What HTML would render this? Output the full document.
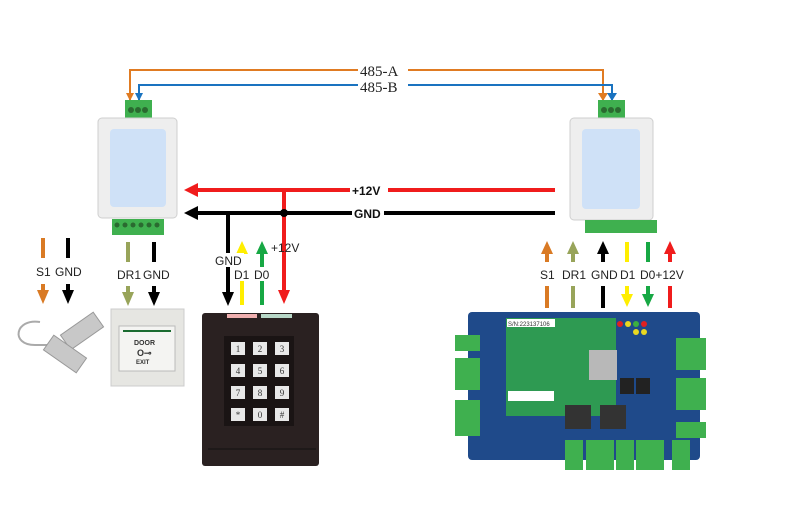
<!DOCTYPE html>
<html><head><meta charset="utf-8"><style>
html,body{margin:0;padding:0;background:#fff;}
svg{display:block;}
text{font-family:"Liberation Sans",sans-serif;}
text.sf{font-family:"Liberation Serif",serif;}
</style></head><body>
<svg width="804" height="532" viewBox="0 0 804 532" xmlns="http://www.w3.org/2000/svg">
<!-- 485 lines -->
<polyline points="130,100 130,70 603,70 603,100" fill="none" stroke="#e07b22" stroke-width="2"/>
<polyline points="139,100 139,85 612,85 612,100" fill="none" stroke="#1a73c0" stroke-width="2"/>
<path d="M126,93 L134,93 L130,101z M598,93 L608,93 L603,101z" fill="#e07b22"/>
<path d="M135,93 L143,93 L139,101z M607,93 L617,93 L612,101z" fill="#1a73c0"/>
<rect x="358" y="62" width="50" height="30" fill="#fff"/>
<text class="sf" x="360" y="76" font-size="15" fill="#222">485-A</text>
<text class="sf" x="360" y="92" font-size="15" fill="#222">485-B</text>

<!-- modules -->
<g>
<rect x="125" y="100" width="27" height="18" fill="#3fb04f"/>
<circle cx="131" cy="110" r="3" fill="#2a6a30"/><circle cx="138" cy="110" r="3" fill="#2a6a30"/><circle cx="145" cy="110" r="3" fill="#2a6a30"/>
<rect x="98" y="118" width="79" height="100" rx="4" fill="#eeeeee" stroke="#cfcfcf"/>
<rect x="110" y="129" width="56" height="78" rx="4" fill="#cfe1f7"/>
<rect x="112" y="219" width="52" height="16" fill="#3fb04f"/>
<g fill="#2a6a30"><circle cx="117" cy="225" r="2.5"/><circle cx="125" cy="225" r="2.5"/><circle cx="133" cy="225" r="2.5"/><circle cx="141" cy="225" r="2.5"/><circle cx="149" cy="225" r="2.5"/><circle cx="157" cy="225" r="2.5"/></g>
</g>
<g>
<rect x="598" y="100" width="27" height="18" fill="#3fb04f"/>
<circle cx="604" cy="110" r="3" fill="#2a6a30"/><circle cx="611" cy="110" r="3" fill="#2a6a30"/><circle cx="618" cy="110" r="3" fill="#2a6a30"/>
<rect x="570" y="118" width="83" height="102" rx="4" fill="#eeeeee" stroke="#cfcfcf"/>
<rect x="582" y="129" width="58" height="80" rx="4" fill="#cfe1f7"/>
<rect x="585" y="220" width="72" height="13" fill="#3fb04f"/>
</g>

<!-- power lines -->
<line x1="195" y1="190" x2="555" y2="190" stroke="#f01c1c" stroke-width="4"/>
<path d="M184,190 L198,183 L198,197z" fill="#f01c1c"/>
<line x1="195" y1="213" x2="555" y2="213" stroke="#000" stroke-width="4"/>
<path d="M184,213 L198,206 L198,220z" fill="#000"/>
<rect x="350" y="182" width="38" height="15" fill="#fff"/>
<text x="352" y="195" font-size="12" font-weight="bold" fill="#111">+12V</text>
<rect x="352" y="206" width="32" height="14" fill="#fff"/>
<text x="354" y="218" font-size="12" font-weight="bold" fill="#111">GND</text>
<line x1="284" y1="190" x2="284" y2="292" stroke="#f01c1c" stroke-width="4"/>
<path d="M278,290 L290,290 L284,304z" fill="#f01c1c"/>
<circle cx="284" cy="213" r="4" fill="#000"/>
<line x1="228" y1="213" x2="228" y2="294" stroke="#000" stroke-width="4"/>
<path d="M222,292 L234,292 L228,306z" fill="#000"/>
<line x1="242" y1="252" x2="242" y2="305" stroke="#ffee00" stroke-width="4"/>
<path d="M236,254 L248,254 L242,241z" fill="#ffee00"/>
<line x1="262" y1="252" x2="262" y2="305" stroke="#17a844" stroke-width="4"/>
<path d="M256,254 L268,254 L262,241z" fill="#17a844"/>
<rect x="214" y="253" width="30" height="14" fill="#fff"/>
<rect x="234" y="267" width="38" height="14" fill="#fff"/>
<g font-size="12" fill="#222">
<text x="215" y="265">GND</text>
<text x="234" y="279">D1</text><text x="254" y="279">D0</text>
<text x="271" y="252">+12V</text>
</g>

<!-- left arrows -->
<g stroke-width="4">
<line x1="43" y1="238" x2="43" y2="258" stroke="#d97a24"/><line x1="43" y1="284" x2="43" y2="292" stroke="#d97a24"/>
<line x1="68" y1="238" x2="68" y2="258" stroke="#000"/><line x1="68" y1="284" x2="68" y2="292" stroke="#000"/>
<line x1="128" y1="242" x2="128" y2="262" stroke="#98a45a"/><line x1="128" y1="286" x2="128" y2="294" stroke="#98a45a"/>
<line x1="154" y1="242" x2="154" y2="262" stroke="#000"/><line x1="154" y1="286" x2="154" y2="294" stroke="#000"/>
</g>
<path d="M37,290 L49,290 L43,304z" fill="#d97a24"/>
<path d="M62,290 L74,290 L68,304z" fill="#000"/>
<path d="M122,292 L134,292 L128,306z" fill="#98a45a"/>
<path d="M148,292 L160,292 L154,306z" fill="#000"/>
<g font-size="12" fill="#222">
<text x="36" y="276">S1</text><text x="55" y="276">GND</text>
<text x="117" y="279">DR1</text><text x="143" y="279">GND</text>
</g>

<!-- right arrows -->
<g stroke-width="4">
<line x1="547" y1="252" x2="547" y2="262" stroke="#d97a24"/><line x1="547" y1="286" x2="547" y2="308" stroke="#d97a24"/>
<line x1="573" y1="252" x2="573" y2="262" stroke="#98a45a"/><line x1="573" y1="286" x2="573" y2="308" stroke="#98a45a"/>
<line x1="603" y1="252" x2="603" y2="262" stroke="#000"/><line x1="603" y1="286" x2="603" y2="308" stroke="#000"/>
<line x1="627" y1="242" x2="627" y2="262" stroke="#ffee00"/><line x1="627" y1="286" x2="627" y2="296" stroke="#ffee00"/>
<line x1="648" y1="242" x2="648" y2="262" stroke="#17a844"/><line x1="648" y1="286" x2="648" y2="296" stroke="#17a844"/>
<line x1="670" y1="252" x2="670" y2="262" stroke="#f01c1c"/><line x1="670" y1="286" x2="670" y2="308" stroke="#f01c1c"/>
</g>
<path d="M541,254 L553,254 L547,241z" fill="#d97a24"/>
<path d="M567,254 L579,254 L573,241z" fill="#98a45a"/>
<path d="M597,254 L609,254 L603,241z" fill="#000"/>
<path d="M621,294 L633,294 L627,307z" fill="#ffee00"/>
<path d="M642,294 L654,294 L648,307z" fill="#17a844"/>
<path d="M664,254 L676,254 L670,241z" fill="#f01c1c"/>
<g font-size="12" fill="#222">
<text x="540" y="279">S1</text><text x="562" y="279">DR1</text><text x="591" y="279">GND</text>
<text x="620" y="279">D1</text><text x="640" y="279">D0+12V</text>
</g>

<!-- door sensor -->
<path d="M40,322 C15,318 10,345 35,345 L75,345" fill="none" stroke="#aaa" stroke-width="2"/>
<rect x="62" y="322" width="40" height="18" fill="#c8c8c8" stroke="#999" transform="rotate(-35 82 331)"/>
<rect x="45" y="345" width="40" height="18" fill="#c8c8c8" stroke="#999" transform="rotate(35 65 354)"/>
<!-- exit button -->
<rect x="111" y="309" width="73" height="77" fill="#e6e6e2" stroke="#ccc"/>
<rect x="119" y="326" width="56" height="45" fill="#f4f4f2" stroke="#bbb"/>
<line x1="123" y1="331" x2="171" y2="331" stroke="#1a6b30" stroke-width="2"/>
<text x="134" y="345" font-size="7" font-weight="bold" fill="#333">DOOR</text>
<text x="137" y="356" font-size="9" font-weight="bold" fill="#333">O⊸</text>
<text x="136" y="364" font-size="6" font-weight="bold" fill="#333">EXIT</text>
<!-- keypad -->
<rect x="202" y="313" width="117" height="153" rx="3" fill="#2a2121"/>
<rect x="227" y="314" width="30" height="4" fill="#f0b0b0"/>
<rect x="261" y="314" width="31" height="4" fill="#b8d8c8"/>
<rect x="224" y="336" width="70" height="90" fill="#1a1414"/>
<g fill="#e8e8e8">
<rect x="231" y="342" width="14" height="13"/><rect x="253" y="342" width="14" height="13"/><rect x="275" y="342" width="14" height="13"/>
<rect x="231" y="364" width="14" height="13"/><rect x="253" y="364" width="14" height="13"/><rect x="275" y="364" width="14" height="13"/>
<rect x="231" y="386" width="14" height="13"/><rect x="253" y="386" width="14" height="13"/><rect x="275" y="386" width="14" height="13"/>
<rect x="231" y="408" width="14" height="13"/><rect x="253" y="408" width="14" height="13"/><rect x="275" y="408" width="14" height="13"/>
</g>
<g font-size="9" fill="#333" text-anchor="middle">
<text class="sf" x="238" y="352">1</text><text class="sf" x="260" y="352">2</text><text class="sf" x="282" y="352">3</text>
<text class="sf" x="238" y="374">4</text><text class="sf" x="260" y="374">5</text><text class="sf" x="282" y="374">6</text>
<text class="sf" x="238" y="396">7</text><text class="sf" x="260" y="396">8</text><text class="sf" x="282" y="396">9</text>
<text class="sf" x="238" y="418">*</text><text class="sf" x="260" y="418">0</text><text class="sf" x="282" y="418">#</text>
</g>
<line x1="208" y1="449" x2="316" y2="449" stroke="#111"/>

<!-- board -->
<rect x="468" y="312" width="232" height="148" rx="4" fill="#1f4a8a"/>
<rect x="506" y="318" width="110" height="98" fill="#2e9a52"/>
<rect x="507" y="319" width="48" height="8" fill="#fff"/>
<text x="508" y="326" font-size="6" fill="#333">S/N:223137106</text>
<rect x="508" y="391" width="46" height="10" fill="#fff"/>
<rect x="589" y="350" width="28" height="30" fill="#b8b8b8"/>
<rect x="620" y="378" width="14" height="16" fill="#222"/><rect x="636" y="378" width="14" height="16" fill="#222"/>
<rect x="565" y="405" width="26" height="24" fill="#333"/><rect x="600" y="405" width="26" height="24" fill="#333"/>
<circle cx="620" cy="324" r="3" fill="#e02020"/><circle cx="628" cy="324" r="3" fill="#e8d820"/><circle cx="636" cy="324" r="3" fill="#3cb040"/><circle cx="644" cy="324" r="3" fill="#e02020"/>
<circle cx="636" cy="332" r="3" fill="#e8d820"/><circle cx="644" cy="332" r="3" fill="#e8d820"/>
<g fill="#3fb04f">
<rect x="455" y="335" width="25" height="16"/><rect x="455" y="358" width="25" height="32"/><rect x="455" y="400" width="25" height="36"/>
<rect x="676" y="338" width="30" height="32"/><rect x="676" y="378" width="30" height="32"/><rect x="676" y="422" width="30" height="16"/>
<rect x="565" y="440" width="18" height="30"/><rect x="586" y="440" width="28" height="30"/><rect x="616" y="440" width="18" height="30"/><rect x="636" y="440" width="28" height="30"/><rect x="672" y="440" width="18" height="30"/>
</g>
</svg>
</body></html>
